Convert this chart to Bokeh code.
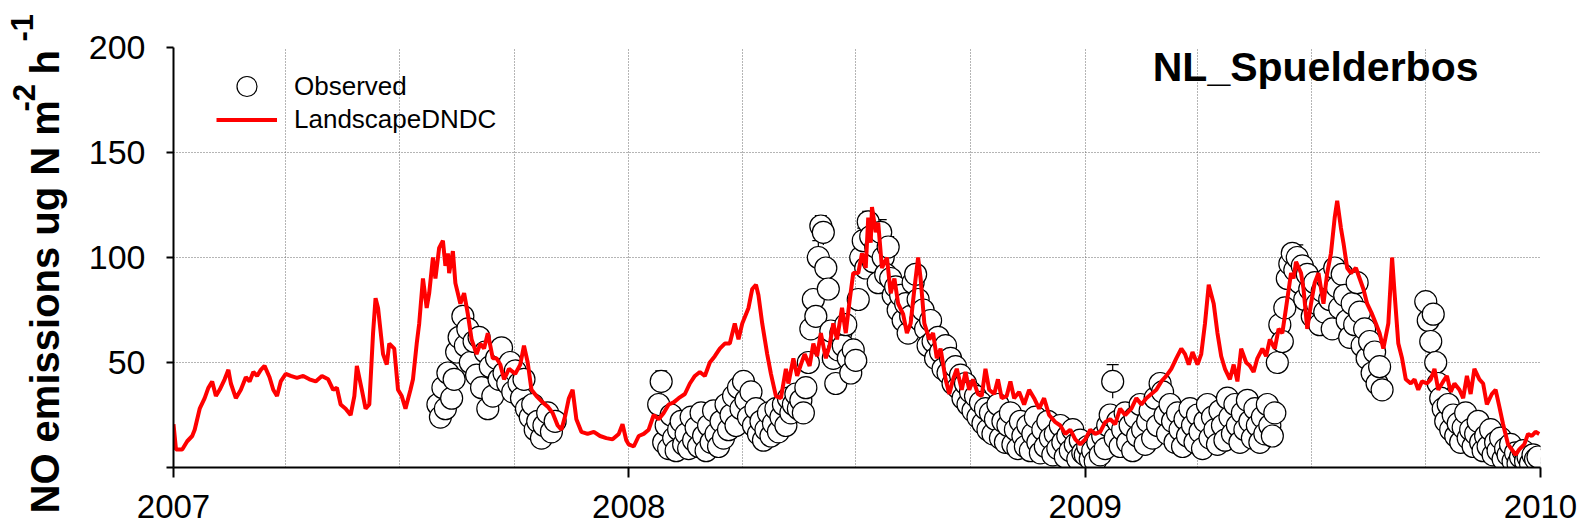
import math
import pandas as pd
from bokeh.plotting import figure
from bokeh.layouts import row
from bokeh.models import (ColumnDataSource, Range1d, FixedTicker, Label, Legend, LegendItem,
                          Whisker, TeeHead, DatetimeTickFormatter)
from bokeh.embed import file_html
from bokeh.resources import INLINE

START = "2007-01-01"
year_labels = ["2007", "2008", "2009", "2010"]
quarter_starts = ["2007-01-01", "2007-04-01", "2007-07-01", "2007-10-01",
                  "2008-01-01", "2008-04-01", "2008-07-01", "2008-10-01",
                  "2009-01-01", "2009-04-01", "2009-07-01", "2009-10-01", "2010-01-01"]
y_ticks = [0, 50, 100, 150, 200]
y_grid = [50, 100, 150, 200]
title_text = "NL_Spuelderbos"
series_names = ["Observed", "LandscapeDNDC"]
ylabel_parts = ["NO emissions ug N m", "-2", "h", "-1"]

# LandscapeDNDC simulation (days since 2007-01-01, ug N m-2 h-1)
model_day = [
    0, 2, 7, 11, 15, 17, 21, 25, 28, 31,
    34, 37, 41, 44, 46, 50, 54, 58, 61, 64,
    67, 70, 73, 77, 80, 83, 86, 90, 94, 99,
    104, 109, 114, 119, 124, 128, 131, 134, 138, 142,
    145, 147, 151, 154, 157, 160, 162, 164, 168, 171,
    173, 177, 180, 183, 186, 190, 192, 195, 197, 200,
    203, 205, 208, 210, 213, 216, 218, 220, 221, 224,
    226, 230, 233, 236, 239, 243, 246, 249, 252, 256,
    259, 262, 265, 269, 274, 278, 281, 284, 287, 291,
    296, 300, 304, 308, 311, 314, 317, 320, 323, 327,
    332, 337, 342, 347, 352, 357, 360, 363, 365, 369,
    373, 377, 381, 385, 389, 393, 397, 401, 405, 410,
    414, 418, 422, 426, 430, 434, 438, 442, 446, 450,
    453, 456, 461, 464, 467, 469, 472, 476, 479, 483,
    487, 491, 493, 497, 500, 503, 506, 510, 513, 516,
    519, 523, 526, 529, 532, 536, 539, 542, 545, 549,
    552, 555, 557, 559, 560, 563, 565, 568, 572, 575,
    578, 581, 585, 588, 591, 594, 597, 599, 602, 606,
    609, 612, 615, 619, 622, 625, 628, 632, 635, 638,
    641, 645, 648, 651, 654, 658, 661, 664, 668, 671,
    674, 678, 682, 686, 690, 694, 698, 702, 707, 711,
    715, 719, 723, 727, 731, 735, 739, 743, 747, 751,
    755, 759, 763, 768, 772, 776, 780, 784, 788, 792,
    796, 800, 804, 808, 811, 814, 817, 821, 824, 827,
    830, 834, 837, 840, 843, 847, 850, 853, 856, 860,
    863, 866, 869, 873, 876, 879, 883, 886, 889, 892,
    896, 898, 900, 904, 906, 909, 912, 915, 918, 922,
    925, 928, 931, 933, 936, 938, 941, 944, 948, 951,
    954, 957, 961, 964, 967, 970, 974, 977, 979, 982,
    985, 988, 992, 995, 998, 1001, 1005, 1008, 1011, 1014,
    1018, 1021, 1024, 1027, 1031, 1034, 1037, 1040, 1043, 1047,
    1050, 1053, 1057, 1060, 1063, 1066, 1070, 1073, 1076, 1079,
    1083, 1086, 1089, 1092, 1095]
model_val = [
    20.6, 8.6, 8.6, 12.5, 15, 18, 28, 33, 38, 41,
    34, 37, 42, 46.5, 40, 33, 37, 43, 41, 45.5,
    43.6, 46.5, 48.4, 43, 37, 34, 41, 44.6, 43.6, 42.7,
    43.6, 42, 41, 43.6, 42, 37, 38, 30, 28, 25,
    34, 48.4, 37, 28, 30, 64, 80.6, 76, 54, 49,
    59, 56.6, 37, 34, 28, 37, 42, 59, 68.6, 90,
    76, 83, 100, 90, 104.6, 108, 96, 102, 92.6, 103,
    87.8, 78, 83, 73, 61, 54, 59, 56.6, 64, 52,
    52, 49, 42, 47, 44.6, 49, 58, 50, 37, 34,
    31, 29, 26, 20, 18, 24.5, 33, 37, 23, 17,
    16, 17, 15, 14, 13.4, 16, 20.6, 13, 11, 10,
    15, 16, 18, 25, 23, 26, 30, 31, 33, 35,
    40, 43.6, 45.5, 43.6, 50, 53, 56.6, 59, 59, 68.6,
    61, 68.6, 76, 85, 87, 82, 68.6, 54, 44.6, 34,
    33, 47, 40, 52, 43.6, 49, 54, 48.4, 59, 53,
    64, 52, 58, 68.6, 61, 76, 64, 79, 92.6, 92.6,
    102, 95, 119, 107, 124, 112, 116.6, 95, 100, 83,
    90, 78, 73, 64, 68.6, 85, 100, 90, 68.6, 61,
    64, 52, 56.6, 42, 35, 42, 47, 37, 45.5, 37,
    42, 35, 34, 47, 37, 35, 42, 33, 34, 41,
    33, 36, 30, 37, 33, 28, 33, 25, 21.6, 20,
    16, 18, 13.4, 11, 13.4, 18, 16, 17, 21.6, 23,
    20.6, 28, 25, 28, 33, 30, 33, 35, 37, 41,
    43.6, 47, 52, 56.6, 54, 49, 55, 49, 54, 68.6,
    87, 78, 64, 53, 47, 42, 49, 41, 56.6, 50,
    48.4, 45.5, 52, 56.6, 53, 61, 56.6, 66, 64, 76,
    92.6, 90, 98, 92.6, 85, 66, 78, 88, 92.6, 78,
    92.6, 102, 119, 127, 114, 107, 95, 92.6, 95, 90,
    85, 78, 73, 68.6, 64, 56.6, 68.6, 100, 83, 59,
    52, 42, 40, 42, 37, 41, 40, 42, 47, 37,
    41, 43.6, 36, 40, 37, 33, 43.6, 35, 47, 42,
    40, 30, 35, 37, 29, 20.6, 11, 8.6, 6, 8.6,
    11, 16, 15, 17, 16]

# Observed (days since 2007-01-01)
obs07_day = [212, 214, 216, 218, 220, 223, 225, 227, 229, 232,
             234, 236, 238, 241, 243, 245, 247, 250, 252, 254,
             256, 259, 261, 263, 265, 268, 270, 272, 274, 277,
             279, 281, 283, 286, 288, 290, 292, 295, 297, 300,
             303, 306]
obs07_val = [30, 24, 38, 28, 45, 33, 42, 55, 62, 72,
             58, 66, 50, 60, 44, 62, 38, 55, 28, 48,
             34, 52, 42, 57, 45, 40, 50, 36, 46, 40,
             33, 42, 28, 24, 30, 18, 22, 14, 20, 26,
             17, 22]

obs08_day = [389, 391, 393, 395, 397, 399, 401, 403, 405, 407,
             409, 411, 413, 415, 417, 419, 421, 423, 425, 427,
             429, 431, 433, 435, 437, 439, 441, 443, 445, 447,
             449, 451, 453, 455, 457, 459, 461, 463, 465, 467,
             469, 471, 473, 475, 477, 479, 481, 483, 485, 487,
             489, 491, 493, 495, 497, 499, 501, 503, 505, 507,
             509, 511, 513, 515, 517, 519, 521, 523, 525, 527,
             529, 531, 533, 535, 537, 539, 541, 543, 545, 547,
             549, 551, 553, 555, 557, 559, 561, 563, 565, 567,
             569, 571, 573, 575, 577, 579, 581, 583, 585, 587,
             589, 591, 593, 595, 597, 599, 601, 603, 605, 607,
             609, 611, 613, 615, 617, 619, 621, 623, 625, 627,
             629, 631, 633, 635, 637, 639, 641, 643, 645, 647,
             649, 651, 653, 655, 657, 659, 661, 663, 665, 667,
             669, 671, 673, 675, 677, 679, 681, 683, 685, 687,
             689, 691, 693, 695, 697, 699, 701, 703, 705, 707,
             709, 711, 713, 715, 717, 719, 721, 723, 725, 727,
             729]
obs08_val = [30, 41, 12, 20, 9, 25, 14, 8, 18, 22,
             11, 16, 9, 24, 13, 19, 10, 26, 15, 8,
             20, 12, 27, 16, 10, 22, 14, 30, 18, 25,
             34, 20, 38, 28, 41, 32, 24, 36, 20, 28,
             16, 22, 13, 18, 26, 15, 21, 28, 17, 24,
             30, 20, 33, 26, 30, 35, 28, 32, 26, 38,
             50, 66, 80, 72, 100, 115, 112, 95, 85, 65,
             52, 40, 56, 64, 58, 68, 52, 45, 56, 51,
             80, 100, 108, 95, 117, 110, 98, 105, 88, 112,
             100, 92, 105, 90, 82, 86, 75, 82, 70, 78,
             64, 72, 88, 92, 80, 70, 75, 66, 58, 70,
             60, 52, 62, 55, 47, 58, 45, 52, 40, 48,
             38, 44, 33, 40, 30, 36, 27, 34, 24, 31,
             21, 28, 18, 26, 16, 23, 30, 14, 22, 12,
             20, 26, 11, 18, 9, 22, 15, 10, 20, 8,
             16, 24, 12, 7, 18, 10, 22, 14, 6, 16,
             9, 20, 12, 5, 15, 8, 18, 11, 4, 13,
             7]

obs09_day = [731, 733, 735, 737, 739, 741, 743, 745, 747, 749,
             751, 753, 755, 757, 759, 761, 763, 765, 767, 769,
             771, 773, 775, 777, 779, 781, 783, 785, 787, 789,
             791, 793, 795, 797, 799, 801, 803, 805, 807, 809,
             811, 813, 815, 817, 819, 821, 823, 825, 827, 829,
             831, 833, 835, 837, 839, 841, 843, 845, 847, 849,
             851, 853, 855, 857, 859, 861, 863, 865, 867, 869,
             871, 873, 875, 877, 879, 881, 883, 885, 887, 889,
             891, 893, 895, 897, 899, 901, 903, 905, 907, 909,
             911, 913, 915, 917, 919, 921, 923, 925, 927, 929,
             931, 933, 935, 937, 939, 941, 943, 945, 947, 949,
             951, 953, 955, 957, 959, 961, 963, 965, 967, 969,
             1004, 1006, 1008, 1010, 1012, 1014, 1016, 1018, 1020, 1022,
             1024, 1026, 1028, 1030, 1032, 1034, 1036, 1038, 1040, 1042,
             1044, 1046, 1048, 1050, 1052, 1054, 1056, 1058, 1060, 1062,
             1064, 1066, 1068, 1070, 1072, 1074, 1076, 1078, 1080, 1082,
             1084, 1086, 1088, 1090, 1092, 1094]
obs09_val = [6, 10, 4, 8, 3, 12, 6, 15, 9, 20,
             25, 41, 14, 22, 10, 18, 26, 12, 20, 8,
             24, 15, 30, 18, 11, 22, 27, 14, 33, 20,
             40, 36, 25, 16, 30, 22, 12, 26, 18, 10,
             23, 15, 28, 20, 12, 25, 17, 9, 22, 30,
             14, 24, 18, 11, 27, 20, 13, 33, 24, 16,
             30, 20, 12, 26, 18, 32, 22, 14, 28, 20,
             12, 24, 16, 30, 20, 15, 26, 50, 68, 60,
             76, 90, 97, 102, 94, 100, 88, 96, 80, 92,
             85, 72, 88, 78, 68, 84, 74, 90, 80, 66,
             95, 86, 76, 92, 82, 70, 62, 78, 68, 88,
             74, 58, 66, 52, 60, 45, 55, 40, 48, 37,
             79, 70, 60, 73, 50, 40, 33, 28, 22, 30,
             18, 25, 15, 21, 12, 19, 26, 14, 18, 10,
             16, 22, 12, 8, 15, 10, 18, 6, 12, 8,
             14, 4, 9, 6, 11, 3, 7, 2, 5, 8,
             3, 5, 2, 6, 4, 5]

# error bars of the observations (the visible ones)
err_day = [391, 517, 519, 521, 553, 557, 567, 573, 753, 897, 901, 909, 931]
err_lo = [35, 94, 110, 106, 102, 112, 106, 100, 33, 96, 94, 86, 89]
err_hi = [46, 108, 120, 118, 114, 122, 118, 110, 49, 106, 106, 97, 99]

FONT = "Liberation Sans"
W, H = 1590, 531
LAB_W = 75


def to_dates(days):
    return (pd.Timestamp(START) + pd.to_timedelta(days, unit="D")).values


def to_ms(s):
    return pd.Timestamp(s).value / 1e6


model_src = ColumnDataSource(dict(x=to_dates(model_day), y=model_val))
obs_src = ColumnDataSource(dict(x=to_dates(obs07_day + obs08_day + obs09_day),
                                y=obs07_val + obs08_val + obs09_val))
err_src = ColumnDataSource(dict(x=to_dates(err_day), lo=err_lo, hi=err_hi))

year_ms = [to_ms(y + "-01-01") for y in year_labels]
quarter_ms = [to_ms(q) for q in quarter_starts]

# ---------------- main plot ----------------
p = figure(width=W - LAB_W, height=H, x_axis_type="datetime",
           x_range=Range1d(year_ms[0], year_ms[-1]), y_range=Range1d(0, 200),
           output_backend="svg", toolbar_location=None,
           min_border_left=173 - LAB_W, min_border_right=W - 1540,
           min_border_top=47, min_border_bottom=H - 467)
p.outline_line_color = None
p.background_fill_color = "white"
p.border_fill_color = "white"

p.xgrid.ticker = FixedTicker(ticks=quarter_ms)
p.ygrid.ticker = FixedTicker(ticks=y_grid)
p.grid.grid_line_color = "#6a6a6a"
p.grid.grid_line_dash = "1 2"
p.grid.grid_line_width = 1

p.xaxis.ticker = FixedTicker(ticks=year_ms)
p.xaxis.formatter = DatetimeTickFormatter(years="%Y", months="%Y", days="%Y", hours="%Y",
                                          hourmin="%Y", minutes="%Y", minsec="%Y",
                                          seconds="%Y", milliseconds="%Y", microseconds="%Y")
p.xaxis.major_label_standoff = 17
p.xaxis.major_label_text_font_size = "33px"
p.xaxis.major_tick_out = 10

p.yaxis.ticker = FixedTicker(ticks=y_ticks)
p.yaxis.major_label_overrides = {0: ""}
p.yaxis.major_tick_out = 7
p.yaxis.major_label_standoff = 21
p.yaxis.major_label_text_font_size = "34px"

for ax in (p.xaxis, p.yaxis):
    ax.major_tick_in = 0
    ax.minor_tick_out = 0
    ax.minor_tick_in = 0
    ax.axis_line_width = 2
    ax.axis_line_color = "black"
    ax.major_tick_line_width = 2
    ax.major_tick_line_color = "black"
    ax.major_label_text_font = FONT
    ax.major_label_text_color = "black"

p.add_layout(Whisker(source=err_src, base="x", upper="hi", lower="lo", dimension="height",
                     line_color="black", line_width=1.2,
                     upper_head=TeeHead(size=12, line_color="black", line_width=1.2),
                     lower_head=None))

obs_r = p.scatter("x", "y", source=obs_src, marker="circle", size=22,
                  fill_color="white", line_color="black", line_width=1.2)
mod_r = p.line("x", "y", source=model_src, line_color="#ff0000", line_width=4)

leg_common = dict(glyph_width=61, label_standoff=17, padding=0, margin=0, spacing=0,
                  border_line_color=None, background_fill_alpha=0,
                  label_text_font=FONT, label_text_font_size="26px", label_text_color="black")
leg1 = Legend(items=[LegendItem(label=series_names[0], renderers=[obs_r])],
              location=(43, 356), glyph_height=50, label_height=50, **leg_common)
leg2 = Legend(items=[LegendItem(label=series_names[1], renderers=[mod_r])],
              location=(43, 331), glyph_height=33, label_height=33, **leg_common)
p.add_layout(leg1)
p.add_layout(leg2)

p.add_layout(Label(x=1305, y=400.5, x_units="screen", y_units="screen", text=title_text,
                   text_align="right", text_baseline="middle", text_font=FONT,
                   text_font_size="41px", text_font_style="bold", text_color="black"))

# ---------------- y-axis title panel (rotated text with superscripts) ----------------
lab = figure(width=LAB_W, height=H, x_range=Range1d(0, LAB_W), y_range=Range1d(0, H),
             output_backend="svg", toolbar_location=None,
             x_axis_location=None, y_axis_location=None,
             min_border_left=0, min_border_right=0, min_border_top=0, min_border_bottom=0)
if "frame_align" in lab.properties():
    lab.frame_align = False
lab.outline_line_color = None
lab.background_fill_color = "white"
lab.border_fill_color = "white"
lab.xgrid.visible = False
lab.ygrid.visible = False

ylab_pos = [(44.5, H - 513, "40px"), (23.0, H - 111, "31px"),
            (44.5, H - 74, "40px"), (21.0, H - 41, "31px")]
for txt, (sx, sy, fs) in zip(ylabel_parts, ylab_pos):
    lab.add_layout(Label(x=sx, y=sy, x_units="screen", y_units="screen", text=txt,
                         angle=math.pi / 2, angle_units="rad",
                         text_align="left", text_baseline="middle", text_font=FONT,
                         text_font_size=fs, text_font_style="bold", text_color="black"))

layout = row(lab, p, spacing=0)
open("out.html", "w").write(file_html(layout, INLINE))
